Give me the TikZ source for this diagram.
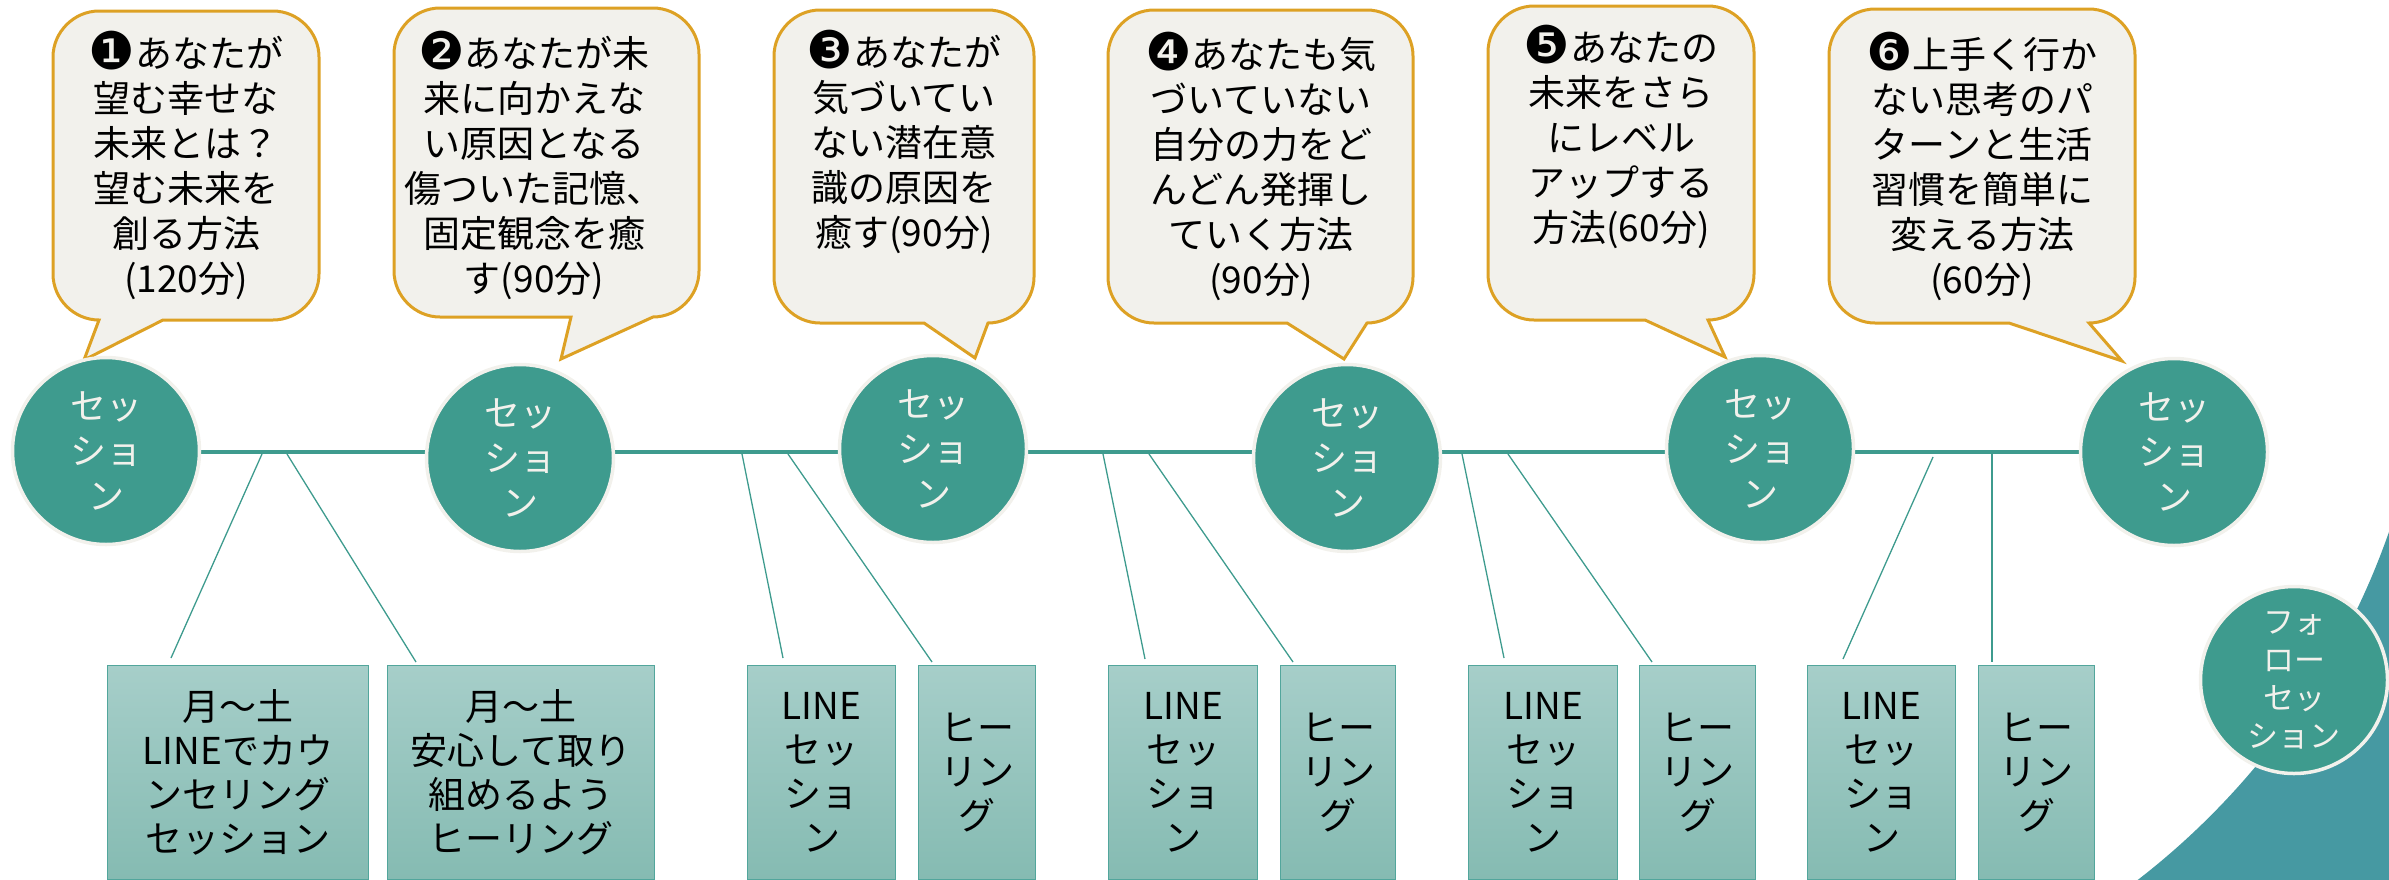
\documentclass[tikz,border=0pt]{standalone}
\usepackage{fontspec}
\setmainfont{Noto Sans CJK JP}
\newfontfamily\dingfont{DejaVu Sans}
\usetikzlibrary{calc}
\definecolor{sessteal}{RGB}{62,155,142}
\definecolor{deepteal}{RGB}{70,153,162}
\definecolor{cream}{RGB}{242,241,236}
\definecolor{gold}{RGB}{221,161,36}
\definecolor{boxtop}{RGB}{166,206,201}
\definecolor{boxbot}{RGB}{133,187,178}
\definecolor{boxline}{RGB}{82,166,156}
\newcommand{\numdot}[1]{{\dingfont\fontsize{52}{45}\selectfont\raisebox{-2pt}{#1}}}

\begin{document}
\begin{tikzpicture}[x=1pt,y=1pt,yscale=-1,xscale=1,
  bubble/.style={draw=gold,fill=cream,line width=3pt,line join=miter},
  bubbletext/.style={align=center,inner sep=0pt,font=\fontsize{37}{45}\selectfont},
  session/.style={circle,draw=cream,fill=sessteal,line width=3.5pt,minimum size=187pt,inner sep=0pt,text=cream,align=center,font=\fontsize{36}{45}\selectfont},
  menu/.style={draw=boxline,line width=1.2pt,top color=boxtop,bottom color=boxbot,anchor=north west,minimum height=214pt,inner sep=0pt,align=center,font=\fontsize{37}{44}\selectfont},
  timeline/.style={draw=sessteal,line width=4.5pt},
  branch/.style={draw=sessteal,line width=1.3pt}]
                \useasboundingbox (0,0) rectangle (2389,879);

                %Shape: Arc
                \begin{scope}
                \clip (2100,480) rectangle (2389,879);
                \fill[deepteal,even odd rule] (2000,400) rectangle (2500,1000) (1677,283) circle[radius=754];
                \end{scope}

                %Shape: Callout 1
                \draw[bubble] (99,11) -- (273,11) .. controls (298,11) and (319,32) .. (319,57) -- (319,274) .. controls (319,299) and (298,320) .. (273,320) -- (163,320) -- (84,360) -- (99,320) .. controls (74,320) and (53,299) .. (53,274) -- (53,57) .. controls (53,32) and (74,11) .. (99,11) -- cycle ;
                %Shape: Callout 2
                \draw[bubble] (440,8) -- (653,8) .. controls (678,8) and (699,29) .. (699,54) -- (699,271) .. controls (699,296) and (678,317) .. (653,317) -- (561,359) -- (571,317) -- (440,317) .. controls (415,317) and (394,296) .. (394,271) -- (394,54) .. controls (394,29) and (415,8) .. (440,8) -- cycle ;
                %Shape: Callout 3
                \draw[bubble] (820,10) -- (988,10) .. controls (1013,10) and (1034,31) .. (1034,56) -- (1034,277) .. controls (1034,302) and (1013,323) .. (988,323) -- (975,358) -- (924,323) -- (820,323) .. controls (795,323) and (774,302) .. (774,277) -- (774,56) .. controls (774,31) and (795,10) .. (820,10) -- cycle ;
                %Shape: Callout 4
                \draw[bubble] (1154,10) -- (1367,10) .. controls (1392,10) and (1413,31) .. (1413,56) -- (1413,277) .. controls (1413,302) and (1392,323) .. (1367,323) -- (1344,359) -- (1287,323) -- (1154,323) .. controls (1129,323) and (1108,302) .. (1108,277) -- (1108,56) .. controls (1108,31) and (1129,10) .. (1154,10) -- cycle ;
                %Shape: Callout 5
                \draw[bubble] (1534,6) -- (1708,6) .. controls (1733,6) and (1754,27) .. (1754,52) -- (1754,274) .. controls (1754,299) and (1733,320) .. (1708,320) -- (1725,357) -- (1645,320) -- (1534,320) .. controls (1509,320) and (1488,299) .. (1488,274) -- (1488,52) .. controls (1488,27) and (1509,6) .. (1534,6) -- cycle ;
                %Shape: Callout 6
                \draw[bubble] (1875,9) -- (2089,9) .. controls (2114,9) and (2135,30) .. (2135,55) -- (2135,277) .. controls (2135,302) and (2114,323) .. (2089,323) -- (2122,361) -- (2009,323) -- (1875,323) .. controls (1850,323) and (1829,302) .. (1829,277) -- (1829,55) .. controls (1829,30) and (1850,9) .. (1875,9) -- cycle ;

                % Text Node
                \node[bubbletext] (b1) at (186,165) {\numdot{❶}あなたが\\望む幸せな\\未来とは？\\望む未来を\\創る方法\\(120分)};
                % Text Node
                \node[bubbletext] (b2) at (534,165) {\numdot{❷}あなたが未\\来に向かえな\\い原因となる\\傷ついた記憶、\\固定観念を癒\\す(90分)};
                % Text Node
                \node[bubbletext] (b3) at (904,142) {\numdot{❸}あなたが\\気づいてい\\ない潜在意\\識の原因を\\癒す(90分)};
                % Text Node
                \node[bubbletext] (b4) at (1261,166) {\numdot{❹}あなたも気\\づいていない\\自分の力をど\\んどん発揮し\\ていく方法\\(90分)};
                % Text Node
                \node[bubbletext] (b5) at (1621,137) {\numdot{❺}あなたの\\未来をさら\\にレベル\\アップする\\方法(60分)};
                % Text Node
                \node[bubbletext] (b6) at (1982,166) {\numdot{❻}上手く行か\\ない思考のパ\\ターンと生活\\習慣を簡単に\\変える方法\\(60分)};

                %Straight Lines
                \coordinate (ax0) at (106,452);
                \coordinate (ax1) at (2174,452);
                \draw[timeline] (ax0) -- (ax1);

                %Shape: Circle
                \node[session] (c1) at (106,451) {セッ\\ショ\\ン};
                \node[session] (c2) at (520,458) {セッ\\ショ\\ン};
                \node[session] (c3) at (933,449) {セッ\\ショ\\ン};
                \node[session] (c4) at (1347,458) {セッ\\ショ\\ン};
                \node[session] (c5) at (1760,449) {セッ\\ショ\\ン};
                \node[session] (c6) at (2174,452) {セッ\\ショ\\ン};
                \node[session,font=\fontsize{31}{38}\selectfont] (f) at (2294,680) {フォ\\ロー\\セッ\\ション};

                %Shape: Rectangle
                \node[menu,minimum width=261pt] (r1) at (107,665) {月～土\\LINEでカウ\\ンセリング\\セッション};
                \node[menu,minimum width=267pt] (r2) at (387,665) {月～土\\安心して取り\\組めるよう\\ヒーリング};
                \node[menu,minimum width=148pt] (r3) at (747,665) {LINE\\セッ\\ショ\\ン};
                \node[menu,minimum width=117pt] (r4) at (918,665) {ヒー\\リン\\グ};
                \node[menu,minimum width=149pt] (r5) at (1108,665) {LINE\\セッ\\ショ\\ン};
                \node[menu,minimum width=115pt] (r6) at (1280,665) {ヒー\\リン\\グ};
                \node[menu,minimum width=149pt] (r7) at (1468,665) {LINE\\セッ\\ショ\\ン};
                \node[menu,minimum width=116pt] (r8) at (1639,665) {ヒー\\リン\\グ};
                \node[menu,minimum width=148pt] (r9) at (1807,665) {LINE\\セッ\\ショ\\ン};
                \node[menu,minimum width=116pt] (r10) at (1978,665) {ヒー\\リン\\グ};

                %Straight Lines
                \coordinate (j1) at (262,454);
                \coordinate (j2) at (287,454);
                \coordinate (j3) at (742,454);
                \coordinate (j4) at (788,454);
                \coordinate (j5) at (1103,454);
                \coordinate (j6) at (1149,454);
                \coordinate (j7) at (1462,454);
                \coordinate (j8) at (1508,454);
                \coordinate (j9) at (1933,457);
                \coordinate (j10) at (1992,454);
                \draw[branch] (j1) -- ($(r1.north west)+(64,-7)$);
                \draw[branch] (j2) -- ($(r2.north west)+(29,-3)$);
                \draw[branch] (j3) -- ($(r3.north west)+(36,-7)$);
                \draw[branch] (j4) -- ($(r4.north west)+(14,-3)$);
                \draw[branch] (j5) -- ($(r5.north west)+(37,-6)$);
                \draw[branch] (j6) -- ($(r6.north west)+(13,-3)$);
                \draw[branch] (j7) -- ($(r7.north west)+(36,-7)$);
                \draw[branch] (j8) -- ($(r8.north west)+(13,-3)$);
                \draw[branch] (j9) -- ($(r9.north west)+(36,-6)$);
                \draw[branch] (j10) -- ($(r10.north west)+(14,-3)$);

\end{tikzpicture}
\end{document}
